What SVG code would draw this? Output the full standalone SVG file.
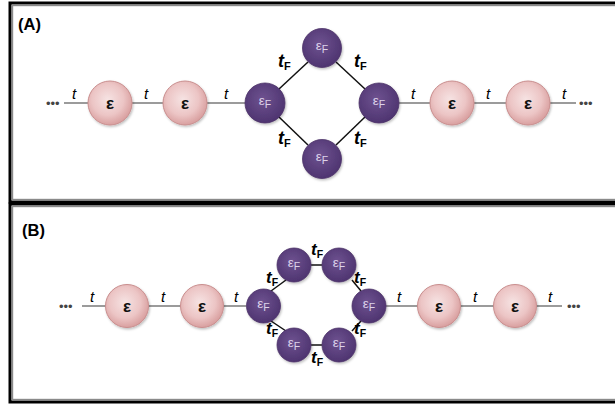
<svg xmlns="http://www.w3.org/2000/svg" width="615" height="404" viewBox="0 0 615 404">
<style>
.frame{fill:none;stroke:#000;stroke-width:3}
.inner{fill:none;stroke:#8a8a8a;stroke-width:1.2}
.lbl{font-family:"Liberation Sans",Arial,sans-serif;font-weight:bold;font-size:16.5px;fill:#000}
.h{stroke:#7a7a7a;stroke-width:1.5;fill:none}
.k{stroke:#111;stroke-width:1.5;fill:none}
.t{font-family:"Liberation Sans",Arial,sans-serif;font-style:italic;font-size:15px;fill:#000}
.dots{font-family:"Liberation Sans",Arial,sans-serif;font-size:13px;fill:#444}
.pk{fill:url(#gp);stroke:#c98e8e;stroke-width:1;filter:url(#sh)}
.pu{fill:url(#gv);stroke:#4d3268;stroke-width:0.8;filter:url(#sh)}
.eps{font-family:"Liberation Sans",Arial,sans-serif;font-weight:bold;font-size:17px;fill:#111;text-anchor:middle}
.ef{font-family:"Liberation Sans",Arial,sans-serif;font-size:13.5px;fill:#ddd3ea;text-anchor:middle}
.tf{font-family:"Liberation Sans",Arial,sans-serif;font-weight:bold;fill:#000}
</style>
<defs>
<radialGradient id="gp" cx="45%" cy="42%" r="60%">
<stop offset="0" stop-color="#f6e3e3"/>
<stop offset="0.6" stop-color="#ecc5c5"/>
<stop offset="1" stop-color="#d79c9c"/>
</radialGradient>
<radialGradient id="gv" cx="45%" cy="40%" r="60%">
<stop offset="0" stop-color="#6e5290"/>
<stop offset="1" stop-color="#4e3470"/>
</radialGradient>
<filter id="sh" x="-30%" y="-30%" width="160%" height="160%">
<feDropShadow dx="1" dy="1.5" stdDeviation="1" flood-color="#000" flood-opacity="0.25"/>
</filter>
</defs>

<g id="frames">
<rect class="frame" x="10" y="3" width="700" height="199"/>
<rect class="inner" x="12.6" y="5.6" width="700" height="193.8"/>
<rect class="frame" x="10" y="204" width="700" height="198"/>
<rect class="inner" x="12.6" y="206.6" width="700" height="192.8"/>
<text class="lbl" x="18" y="30">(A)</text>
<text class="lbl" x="22" y="236">(B)</text>
</g>

<g id="connectors">
<!-- Panel A -->
<line class="h" x1="64" y1="103" x2="88" y2="103"/>
<line class="h" x1="132" y1="103" x2="163" y2="103"/>
<line class="h" x1="207" y1="103" x2="245" y2="103"/>
<line class="k" x1="279" y1="89" x2="308" y2="62"/>
<line class="k" x1="336" y1="62" x2="365" y2="89"/>
<line class="k" x1="279" y1="117" x2="308" y2="145"/>
<line class="k" x1="336" y1="145" x2="365" y2="117"/>
<line class="h" x1="399" y1="103" x2="430" y2="103"/>
<line class="h" x1="474" y1="103" x2="506" y2="103"/>
<line class="h" x1="550" y1="103" x2="576" y2="103"/>
<!-- Panel B -->
<line class="h" x1="82" y1="306" x2="105" y2="306"/>
<line class="h" x1="149" y1="306" x2="180" y2="306"/>
<line class="h" x1="224" y1="306" x2="246" y2="306"/>
<line class="k" x1="271" y1="291" x2="286" y2="280"/>
<line class="k" x1="311" y1="265" x2="322" y2="265"/>
<line class="k" x1="352" y1="280" x2="361" y2="291"/>
<line class="k" x1="361" y1="321" x2="352" y2="331"/>
<line class="k" x1="322" y1="345" x2="311" y2="345"/>
<line class="k" x1="286" y1="331" x2="271" y2="321"/>
<line class="h" x1="386" y1="306" x2="418" y2="306"/>
<line class="h" x1="461" y1="306" x2="494" y2="306"/>
<line class="h" x1="537" y1="306" x2="562" y2="306"/>
</g>

<g id="labelsA">
<text class="dots" x="46" y="107.5">•••</text>
<text class="t" x="72" y="99">t</text>
<text class="t" x="144" y="99">t</text>
<text class="t" x="224" y="99">t</text>
<text class="t" x="411" y="99">t</text>
<text class="t" x="486" y="99">t</text>
<text class="t" x="562" y="99">t</text>
<text class="dots" x="579" y="107.5">•••</text>
<text class="tf" x="278" y="67"><tspan font-style="italic" font-size="18">t</tspan><tspan font-size="11" dy="3">F</tspan></text>
<text class="tf" x="354" y="67"><tspan font-style="italic" font-size="18">t</tspan><tspan font-size="11" dy="3">F</tspan></text>
<text class="tf" x="278" y="144"><tspan font-style="italic" font-size="18">t</tspan><tspan font-size="11" dy="3">F</tspan></text>
<text class="tf" x="354" y="144"><tspan font-style="italic" font-size="18">t</tspan><tspan font-size="11" dy="3">F</tspan></text>
</g>

<g id="A-e1"><circle class="pk" cx="110" cy="103" r="22"/><text class="eps" x="110" y="109">ε</text></g>
<g id="A-e2"><circle class="pk" cx="185" cy="103" r="22"/><text class="eps" x="185" y="109">ε</text></g>
<g id="A-fL"><circle class="pu" cx="265" cy="103" r="20"/><text class="ef" x="265" y="105">ε<tspan font-size="10.5" dy="3">F</tspan></text></g>
<g id="A-fT"><circle class="pu" cx="322" cy="48" r="19.5"/><text class="ef" x="322" y="50">ε<tspan font-size="10.5" dy="3">F</tspan></text></g>
<g id="A-fR"><circle class="pu" cx="379" cy="103" r="20"/><text class="ef" x="379" y="105">ε<tspan font-size="10.5" dy="3">F</tspan></text></g>
<g id="A-fB"><circle class="pu" cx="322" cy="159" r="19.5"/><text class="ef" x="322" y="161">ε<tspan font-size="10.5" dy="3">F</tspan></text></g>
<g id="A-e3"><circle class="pk" cx="452" cy="103" r="22"/><text class="eps" x="452" y="109">ε</text></g>
<g id="A-e4"><circle class="pk" cx="528" cy="103" r="22"/><text class="eps" x="528" y="109">ε</text></g>

<g id="labelsB">
<text class="dots" x="59" y="310.5">•••</text>
<text class="t" x="90" y="302">t</text>
<text class="t" x="161" y="302">t</text>
<text class="t" x="234" y="302">t</text>
<text class="t" x="397" y="302">t</text>
<text class="t" x="473" y="302">t</text>
<text class="t" x="548" y="302">t</text>
<text class="dots" x="567" y="310.5">•••</text>
<text class="tf" x="311" y="255"><tspan font-style="italic" font-size="17">t</tspan><tspan font-size="10.5" dy="3">F</tspan></text>
<text class="tf" x="266" y="283"><tspan font-style="italic" font-size="17">t</tspan><tspan font-size="10.5" dy="3">F</tspan></text>
<text class="tf" x="354" y="283"><tspan font-style="italic" font-size="17">t</tspan><tspan font-size="10.5" dy="3">F</tspan></text>
<text class="tf" x="266" y="334"><tspan font-style="italic" font-size="17">t</tspan><tspan font-size="10.5" dy="3">F</tspan></text>
<text class="tf" x="354" y="334"><tspan font-style="italic" font-size="17">t</tspan><tspan font-size="10.5" dy="3">F</tspan></text>
<text class="tf" x="311" y="363"><tspan font-style="italic" font-size="17">t</tspan><tspan font-size="10.5" dy="3">F</tspan></text>
</g>

<g id="B-e1"><circle class="pk" cx="127" cy="306" r="21.5"/><text class="eps" x="127" y="312">ε</text></g>
<g id="B-e2"><circle class="pk" cx="202" cy="306" r="21.5"/><text class="eps" x="202" y="312">ε</text></g>
<g id="B-fL"><circle class="pu" cx="263.5" cy="306" r="17"/><text class="ef" x="263.5" y="308">ε<tspan font-size="10.5" dy="3">F</tspan></text></g>
<g id="B-fTL"><circle class="pu" cx="294" cy="265" r="17"/><text class="ef" x="294" y="267">ε<tspan font-size="10.5" dy="3">F</tspan></text></g>
<g id="B-fTR"><circle class="pu" cx="339" cy="265" r="17"/><text class="ef" x="339" y="267">ε<tspan font-size="10.5" dy="3">F</tspan></text></g>
<g id="B-fR"><circle class="pu" cx="369" cy="306" r="17"/><text class="ef" x="369" y="308">ε<tspan font-size="10.5" dy="3">F</tspan></text></g>
<g id="B-fBR"><circle class="pu" cx="339" cy="345" r="17"/><text class="ef" x="339" y="347">ε<tspan font-size="10.5" dy="3">F</tspan></text></g>
<g id="B-fBL"><circle class="pu" cx="294" cy="345" r="17"/><text class="ef" x="294" y="347">ε<tspan font-size="10.5" dy="3">F</tspan></text></g>
<g id="B-e3"><circle class="pk" cx="439" cy="306" r="21.5"/><text class="eps" x="439" y="312">ε</text></g>
<g id="B-e4"><circle class="pk" cx="515" cy="306" r="21.5"/><text class="eps" x="515" y="312">ε</text></g>
</svg>
